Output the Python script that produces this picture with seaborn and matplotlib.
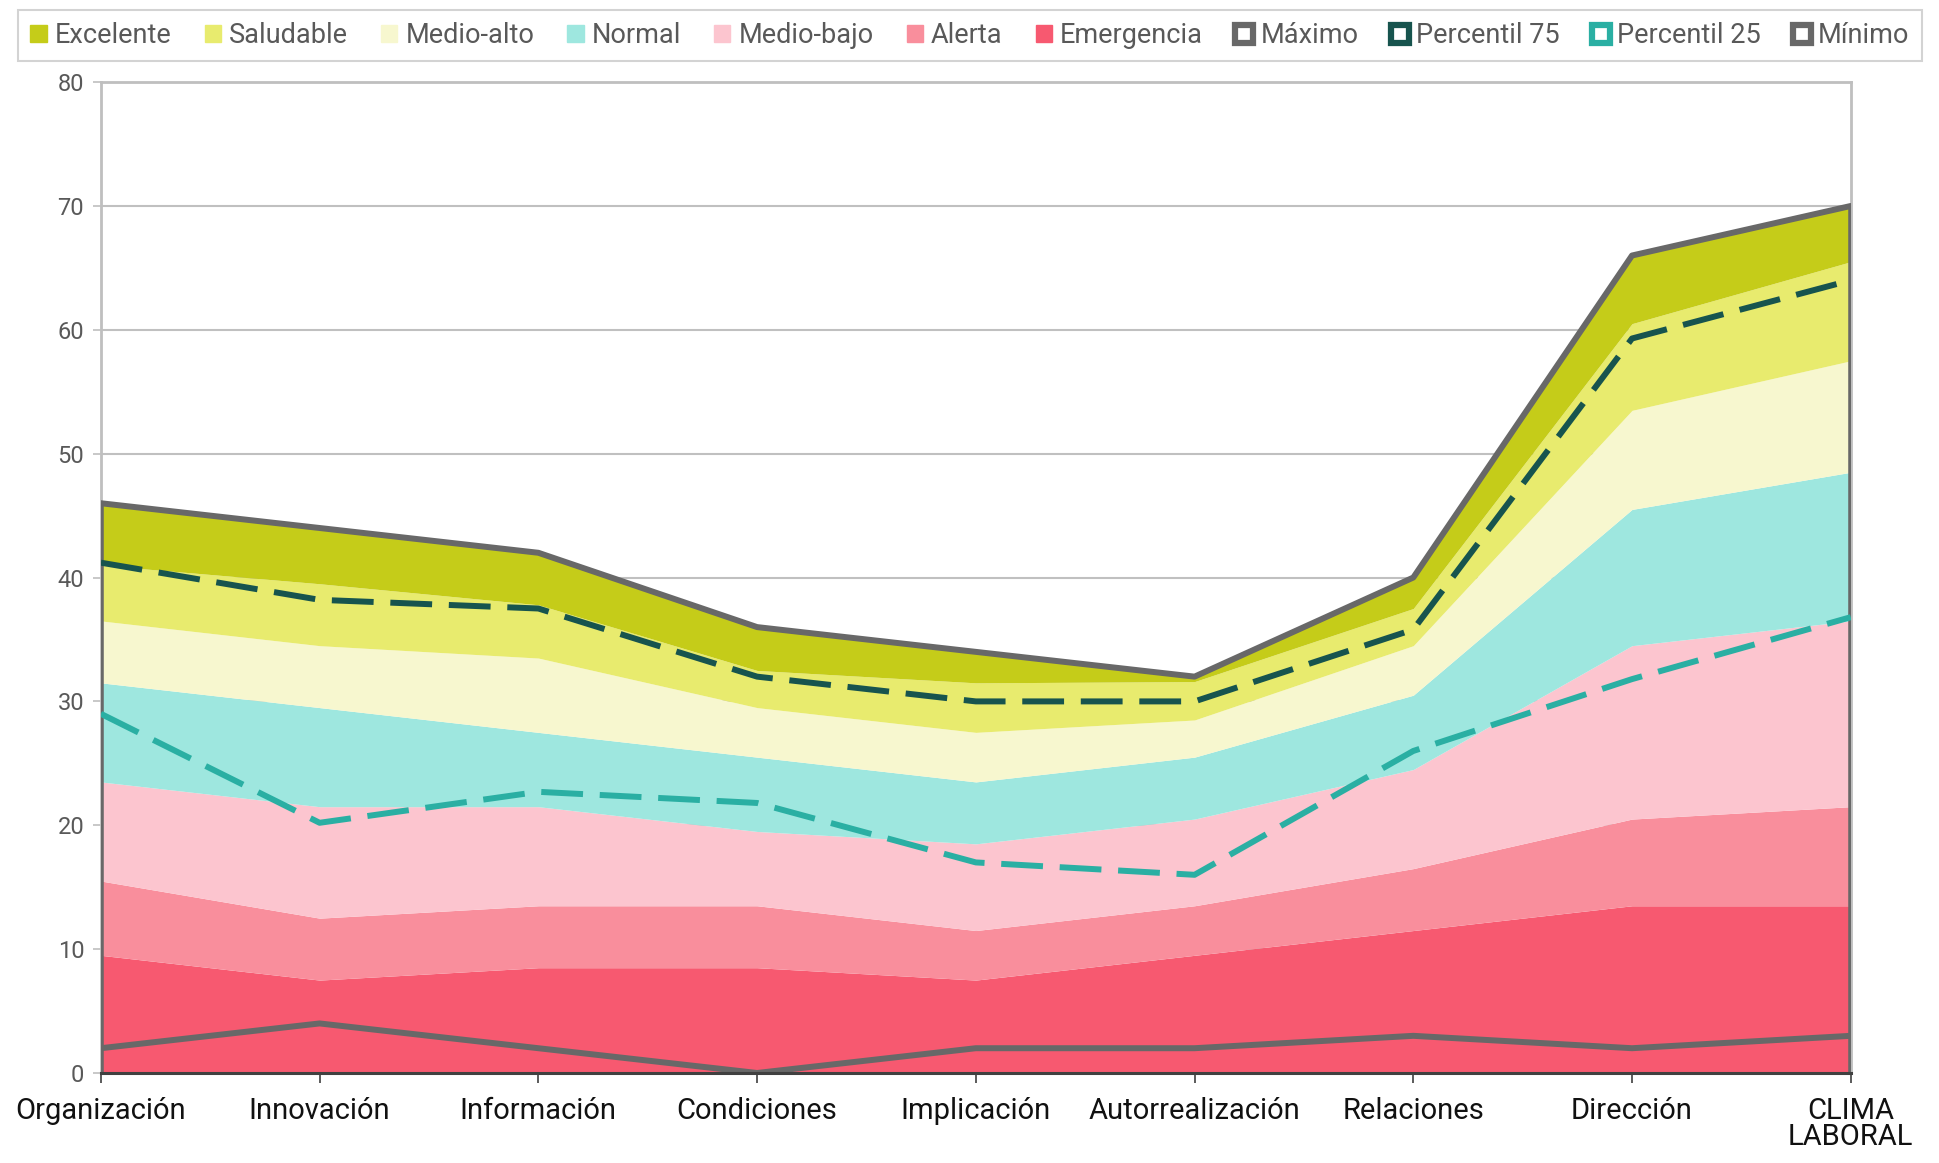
import numpy as np
import pandas as pd
import matplotlib.pyplot as plt
from matplotlib.patches import Patch
from matplotlib.lines import Line2D
import seaborn as sns


categorias = ['Organización', 'Innovación', 'Información', 'Condiciones', 'Implicación',
              'Autorrealización', 'Relaciones', 'Dirección', 'CLIMA\nLABORAL']

# limite superior acumulado de cada franja (de abajo hacia arriba)
emergencia = [9.5, 7.5, 8.5, 8.5, 7.5, 9.5, 11.5, 13.5, 13.5]
alerta = [15.5, 12.5, 13.5, 13.5, 11.5, 13.5, 16.5, 20.5, 21.5]
medio_bajo = [23.5, 21.5, 21.5, 19.5, 18.5, 20.5, 24.5, 34.5, 36.5]
normal = [31.5, 29.5, 27.5, 25.5, 23.5, 25.5, 30.5, 45.5, 48.5]
medio_alto = [36.5, 34.5, 33.5, 29.5, 27.5, 28.5, 34.5, 53.5, 57.5]
saludable = [41.0, 39.5, 37.8, 32.5, 31.5, 31.6, 37.5, 60.5, 65.5]
excelente = [46, 44, 42, 36, 34, 32, 40, 66, 70]

maximo = [46, 44, 42, 36, 34, 32, 40, 66, 70]
percentil_75 = [41.2, 38.2, 37.5, 32.0, 30.0, 30.0, 35.8, 59.3, 64.0]
percentil_25 = [29.0, 20.2, 22.7, 21.8, 17.0, 16.0, 26.0, 31.8, 36.8]
minimo = [2, 4, 2, 0, 2, 2, 3, 2, 3]

nombres_franjas = ['Emergencia', 'Alerta', 'Medio-bajo', 'Normal', 'Medio-alto', 'Saludable', 'Excelente']
colores_franjas = ['#F75970', '#F98E9C', '#FCC5CF', '#9EE7DF', '#F7F7CF', '#E8EB6E', '#C5CC19']

sns.set_theme(style='white')
plt.rcParams['font.family'] = ['Roboto', 'DejaVu Sans']

x = np.arange(len(categorias))
tops = np.array([emergencia, alerta, medio_bajo, normal, medio_alto, saludable, excelente])
grosores = np.diff(np.vstack([np.zeros(len(x)), tops]), axis=0)

fig = plt.figure(figsize=(19.4, 11.63), dpi=100)
ax = fig.add_axes([0.052, 0.0774, 0.902, 0.852])

ax.stackplot(x, grosores, colors=colores_franjas, linewidth=0, zorder=2)

df = pd.DataFrame({'x': x, 'max': maximo, 'p75': percentil_75, 'p25': percentil_25, 'min': minimo})
sns.lineplot(data=df, x='x', y='max', color='#686868', linewidth=4.3, ax=ax, zorder=4)
sns.lineplot(data=df, x='x', y='min', color='#686868', linewidth=4.3, ax=ax, zorder=4)
sns.lineplot(data=df, x='x', y='p75', color='#17544E', linewidth=4.3, ax=ax, zorder=5,
             dashes=False, linestyle=(0, (7, 2.8)))
sns.lineplot(data=df, x='x', y='p25', color='#2AAFA3', linewidth=4.3, ax=ax, zorder=5,
             dashes=False, linestyle=(0, (7, 2.8)))

# bordes laterales del area
ax.vlines([x[0], x[-1]], 0, [maximo[0], maximo[-1]], color='#686868', linewidth=4, zorder=3)

ax.set_xlim(x[0], x[-1])
ax.set_ylim(0, 80)
ax.set_yticks(range(0, 81, 10))
ax.set_xticks(x)
ax.set_xticklabels(categorias, fontsize=21, color='#111111', linespacing=0.95)
ax.tick_params(axis='y', labelsize=17, labelcolor='#595959', length=6, width=1.2,
               color='#BFBFBF', direction='out', left=True, pad=6)
ax.tick_params(axis='x', length=7, width=1.2, color='#404040', direction='out', bottom=True, pad=10)
ax.set_xlabel('')
ax.set_ylabel('')
ax.grid(axis='y', color='#C0C0C0', linewidth=1.5, zorder=0)
ax.set_axisbelow(True)
for lado in ['left', 'top', 'right']:
    ax.spines[lado].set_color('#BFBFBF')
    ax.spines[lado].set_linewidth(2)
ax.spines['bottom'].set_color('#404040')
ax.spines['bottom'].set_linewidth(2.2)
ax.spines['bottom'].set_zorder(6)

handles = [Patch(color=c, label=n) for n, c in zip(nombres_franjas[::-1], colores_franjas[::-1])]
for nombre, color in [('Máximo', '#686868'), ('Percentil 75', '#17544E'),
                      ('Percentil 25', '#2AAFA3'), ('Mínimo', '#686868')]:
    handles.append(Line2D([], [], linestyle='none', marker='s', markersize=13,
                          markerfacecolor='white', markeredgecolor=color,
                          markeredgewidth=4.5, label=nombre))

leg = fig.legend(handles=handles, loc='upper center', bbox_to_anchor=(0.5, 1.003), ncol=11,
                 fontsize=19.5, frameon=True, fancybox=False, edgecolor='#C8C8C8',
                 handlelength=0.6, handleheight=0.6, handletextpad=0.3, columnspacing=1.22,
                 borderpad=0.45)
leg.get_frame().set_linewidth(1.5)
for t in leg.get_texts():
    t.set_color('#595959')

fig.savefig('out.png', dpi=100)
